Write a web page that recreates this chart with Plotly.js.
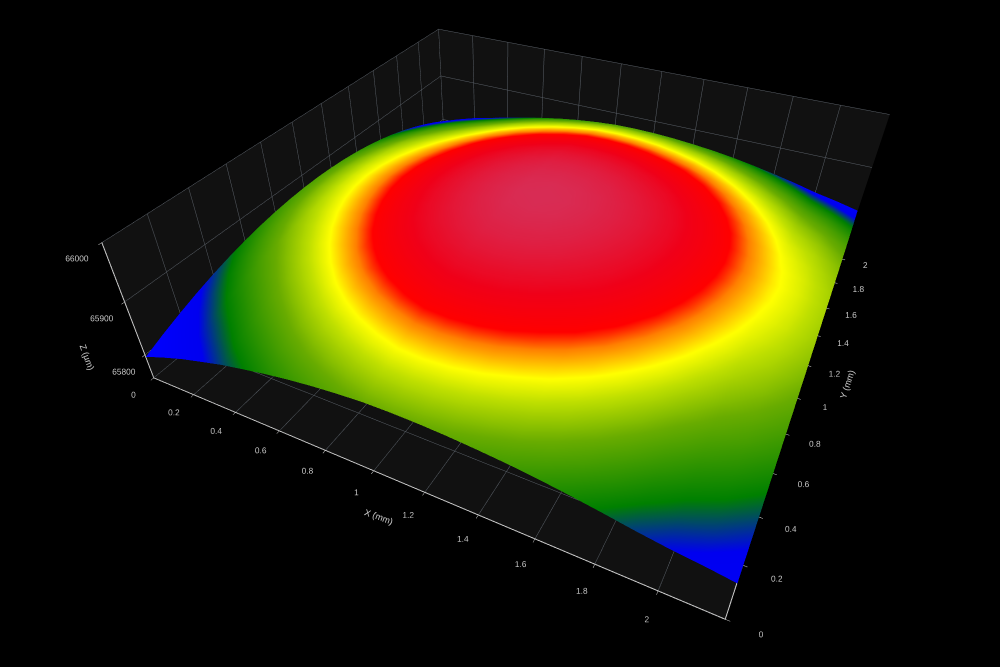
<!DOCTYPE html>
<html><head><meta charset="utf-8">
<script src="https://cdn.plot.ly/plotly-3.0.1.min.js"></script>
<style>html,body{margin:0;padding:0;background:#000}#g{width:1000px;height:667px}</style></head>
<body><div id="g"></div>
<script>
const xValues=[0,0.1,0.2,0.3,0.4,0.5,0.6,0.7,0.8,0.9,1.0,1.1,1.2,1.3,1.4,1.5,1.6,1.7,1.8,1.9,2.0,2.1,2.2];
const yValues=[0,0.1,0.2,0.3,0.4,0.5,0.6,0.7,0.8,0.9,1.0,1.1,1.2,1.3,1.4,1.5,1.6,1.7,1.8,1.9,2.0,2.1,2.2];
const zValues=[
[65796.0,65811.0,65824.6,65835.9,65846.9,65855.6,65863.9,65870.9,65876.5,65880.8,65883.8,65884.5,65883.8,65881.8,65878.5,65874.4,65868.9,65862.1,65854.4,65845.9,65838.6,65833.0,65826.0],
[65810.0,65824.6,65837.7,65848.6,65859.1,65867.8,65876.1,65883.1,65888.7,65893.0,65896.0,65896.7,65896.0,65894.0,65890.7,65886.6,65881.1,65874.3,65866.6,65858.1,65850.7,65845.1,65838.0],
[65822.6,65836.8,65849.6,65860.0,65870.2,65878.9,65887.2,65894.2,65899.8,65904.1,65907.1,65907.8,65907.1,65905.1,65901.8,65897.7,65892.2,65885.4,65877.7,65869.2,65861.7,65855.9,65848.6],
[65833.9,65847.8,65860.3,65870.4,65880.3,65889.0,65897.3,65904.3,65909.9,65914.2,65917.2,65917.9,65917.2,65915.2,65911.9,65907.8,65902.3,65895.5,65887.8,65879.3,65871.7,65865.8,65858.5],
[65843.9,65857.6,65869.8,65879.8,65889.4,65898.1,65906.4,65913.4,65919.0,65923.3,65926.3,65927.0,65926.3,65924.3,65921.0,65916.9,65911.4,65904.6,65896.9,65888.4,65880.7,65874.8,65867.4],
[65852.6,65866.1,65878.2,65887.9,65897.4,65906.1,65914.4,65921.4,65927.0,65931.3,65934.3,65935.0,65934.3,65932.3,65929.0,65924.9,65919.4,65912.6,65904.9,65896.4,65888.5,65882.5,65875.0],
[65859.9,65873.2,65885.2,65894.8,65904.1,65912.8,65921.1,65928.1,65933.7,65938.0,65941.0,65941.7,65941.0,65939.0,65935.7,65931.6,65926.1,65919.3,65911.6,65903.1,65895.2,65889.0,65881.4],
[65865.9,65879.1,65890.9,65900.4,65909.6,65918.3,65926.6,65933.6,65939.2,65943.5,65946.5,65947.2,65946.5,65944.5,65941.2,65937.1,65931.6,65924.8,65917.1,65908.6,65900.5,65894.2,65886.5],
[65870.5,65883.6,65895.3,65904.7,65913.8,65922.5,65930.8,65937.8,65943.4,65947.7,65950.7,65951.4,65950.7,65948.7,65945.4,65941.3,65935.8,65929.0,65921.3,65912.8,65904.6,65898.3,65890.5],
[65873.8,65886.8,65898.4,65907.8,65916.8,65925.5,65933.8,65940.8,65946.4,65950.7,65953.7,65954.4,65953.7,65951.7,65948.4,65944.3,65938.8,65932.0,65924.3,65915.8,65907.5,65901.1,65893.3],
[65875.8,65888.8,65900.4,65909.7,65918.7,65927.4,65935.7,65942.7,65948.3,65952.6,65955.6,65956.3,65955.6,65953.6,65950.3,65946.2,65940.7,65933.9,65926.2,65917.7,65909.3,65902.7,65894.7],
[65876.5,65889.5,65901.1,65910.4,65919.4,65928.1,65936.4,65943.4,65949.0,65953.3,65956.3,65957.0,65956.3,65954.3,65951.0,65946.9,65941.4,65934.6,65926.9,65918.4,65909.9,65903.3,65895.2],
[65875.8,65888.8,65900.4,65909.7,65918.7,65927.4,65935.7,65942.7,65948.3,65952.6,65955.6,65956.3,65955.6,65953.6,65950.3,65946.2,65940.7,65933.9,65926.2,65917.7,65909.1,65902.4,65894.3],
[65873.8,65886.8,65898.4,65907.7,65916.7,65925.4,65933.7,65940.7,65946.3,65950.6,65953.6,65954.3,65953.6,65951.6,65948.3,65944.2,65938.7,65931.9,65924.2,65915.7,65907.0,65900.1,65891.8],
[65870.5,65883.5,65895.1,65904.4,65913.4,65922.1,65930.4,65937.4,65943.0,65947.3,65950.3,65951.0,65950.3,65948.3,65945.0,65940.9,65935.4,65928.6,65920.9,65912.4,65903.6,65896.7,65888.3],
[65865.9,65878.9,65890.5,65899.8,65908.8,65917.5,65925.8,65932.8,65938.4,65942.7,65945.7,65946.4,65945.7,65943.7,65940.4,65936.3,65930.8,65924.0,65916.3,65907.8,65898.8,65891.8,65883.3],
[65859.9,65872.9,65884.5,65893.8,65902.8,65911.5,65919.8,65926.8,65932.4,65936.7,65939.7,65940.4,65939.7,65937.7,65934.4,65930.3,65924.8,65918.0,65910.3,65901.8,65892.7,65885.6,65877.1],
[65852.6,65865.6,65877.2,65886.5,65895.5,65904.2,65912.5,65919.5,65925.1,65929.4,65932.4,65933.1,65932.4,65930.4,65927.1,65923.0,65917.5,65910.7,65903.0,65894.5,65885.3,65878.0,65869.3],
[65843.9,65856.9,65868.5,65877.8,65886.8,65895.5,65903.8,65910.8,65916.4,65920.7,65923.7,65924.4,65923.7,65921.7,65918.4,65914.3,65908.8,65902.0,65894.3,65885.8,65876.5,65869.2,65860.4],
[65833.9,65846.9,65858.5,65867.8,65876.8,65885.5,65893.8,65900.8,65906.4,65910.7,65913.7,65914.4,65913.7,65911.7,65908.4,65904.3,65898.8,65892.0,65884.3,65875.8,65866.4,65859.0,65850.2],
[65822.6,65835.6,65847.2,65856.5,65865.5,65874.2,65882.5,65889.5,65895.1,65899.4,65902.4,65903.1,65902.4,65900.4,65897.1,65893.0,65887.5,65880.7,65873.0,65864.5,65855.0,65847.4,65838.4],
[65810.0,65823.0,65834.6,65843.9,65852.9,65861.6,65869.9,65876.9,65882.5,65886.8,65889.8,65890.5,65889.8,65887.8,65884.5,65880.4,65874.9,65868.1,65860.4,65851.9,65842.3,65834.7,65825.6],
[65796.0,65809.0,65820.6,65829.9,65838.9,65847.6,65855.9,65862.9,65868.5,65872.8,65875.8,65876.5,65875.8,65873.8,65870.5,65866.4,65860.9,65854.1,65846.4,65837.9,65828.2,65820.5,65811.4]];
const colorStops=[[0,'#0000ff'],[0.25,'#0000f0'],[0.37,'#008000'],[0.54,'#68ac00'],[0.64,'#c0e000'],[0.695,'#ffff00'],[0.76,'#ff8000'],[0.80,'#ff0000'],[0.88,'#f00018'],[1,'#d82c54']];
const axisStyle={showbackground:true,backgroundcolor:'#111111',gridcolor:'#5a6068',gridwidth:1,
  showline:true,linecolor:'#d0d0d0',linewidth:2,ticks:'outside',tickcolor:'#d0d0d0',ticklen:3,tickangle:0,
  tickfont:{family:'Liberation Sans',size:10,color:'#c8c8c8'},zeroline:false,showspikes:false};
const xyTicks=[0,0.2,0.4,0.6,0.8,1,1.2,1.4,1.6,1.8,2];
const xyLabels=['0','0.2','0.4','0.6','0.8','1','1.2','1.4','1.6','1.8','2'];
const axisNames=['X (mm)','Y (mm)','Z (µm)'];
const note=(text,x,y,angle)=>({text:text,xref:'paper',yref:'paper',x:x,y:y,xanchor:'center',yanchor:'middle',textangle:angle,showarrow:false,font:{family:'Liberation Sans',size:9,color:'#c8c8c8'}});
Plotly.newPlot('g',[{type:'surface',x:xValues,y:yValues,z:zValues,colorscale:colorStops,cmin:65797,cmax:65957,showscale:false,
  lighting:{ambient:0.3,diffuse:0.85,specular:0,roughness:0.5,fresnel:0},lightposition:{x:20000,y:-100000,z:35000}}],
{width:1000,height:667,paper_bgcolor:'#000',margin:{l:0,r:0,t:0,b:0},showlegend:false,
 annotations:[note(axisNames[0],0.379,0.225,20),note(axisNames[1],0.847,0.423,-72),note(axisNames[2],0.087,0.465,70)],
 scene:{domain:{x:[0,1],y:[0,1]},bgcolor:'#000',aspectmode:'manual',aspectratio:{x:1,y:1,z:0.28},
  camera:{projection:{type:'perspective'},center:{x:-0.018,y:-0.128,z:-0.135},eye:{x:0.492,y:-1.128,z:0.82},up:{x:0.04,y:0.019,z:1}},
  xaxis:Object.assign({},axisStyle,{title:{text:''},range:[0,2.2],tickvals:xyTicks,ticktext:xyLabels}),
  yaxis:Object.assign({},axisStyle,{title:{text:''},range:[0,2.2],tickvals:xyTicks,ticktext:xyLabels}),
  zaxis:Object.assign({},axisStyle,{title:{text:''},range:[65753,66000],dtick:100,tick0:65800,tickformat:'d'})}
},{displayModeBar:false});
</script></body></html>
